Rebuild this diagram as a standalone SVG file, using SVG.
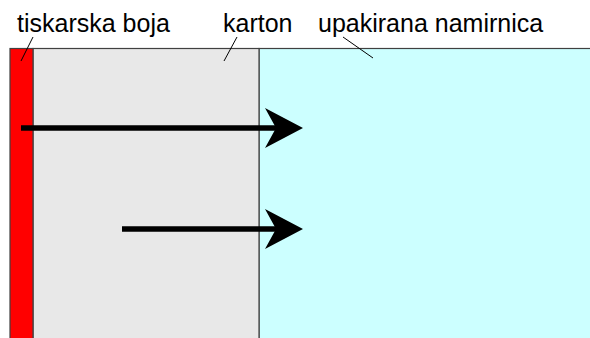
<svg xmlns="http://www.w3.org/2000/svg" width="590" height="338" viewBox="0 0 590 338">
  <style>
    .lbl { font-family: "Liberation Sans", Arial, sans-serif; font-size: 25px; fill: #000; }
    .layer { stroke: #404040; stroke-width: 1.2; }
    .leader { stroke: #000; stroke-width: 1; fill: none; }
    .flow { stroke: #000; stroke-width: 5.5; fill: none; }
  </style>
  <defs>
    <marker id="head" markerUnits="userSpaceOnUse" viewBox="0 0 38 40" markerWidth="38" markerHeight="40" refX="20" refY="20" orient="auto">
      <path d="M0,0 L38,20 L0,40 L11,20 Z" fill="#000"/>
    </marker>
  </defs>
  <rect width="590" height="338" fill="#fff"/>
  <g id="namirnica">
    <rect class="layer" x="259" y="48.5" width="332" height="291" fill="#ccffff"/>
    <text class="lbl" x="318" y="32">upakirana namirnica</text>
    <line class="leader" x1="343" y1="37" x2="373" y2="58"/>
  </g>
  <g id="karton">
    <rect class="layer" x="33" y="48.5" width="226" height="291" fill="#e8e8e8"/>
    <text class="lbl" x="223" y="32">karton</text>
    <line class="leader" x1="237" y1="37" x2="224" y2="61"/>
  </g>
  <g id="boja">
    <rect class="layer" x="10" y="48.5" width="23" height="291" fill="#ff0000"/>
    <text class="lbl" x="17" y="32">tiskarska boja</text>
    <line class="leader" x1="33" y1="37" x2="21" y2="61"/>
  </g>
  <g id="connectors">
    <line class="flow" x1="21" y1="128" x2="285" y2="128" marker-end="url(#head)"/>
    <line class="flow" x1="122" y1="229" x2="285" y2="229" marker-end="url(#head)"/>
  </g>
</svg>
